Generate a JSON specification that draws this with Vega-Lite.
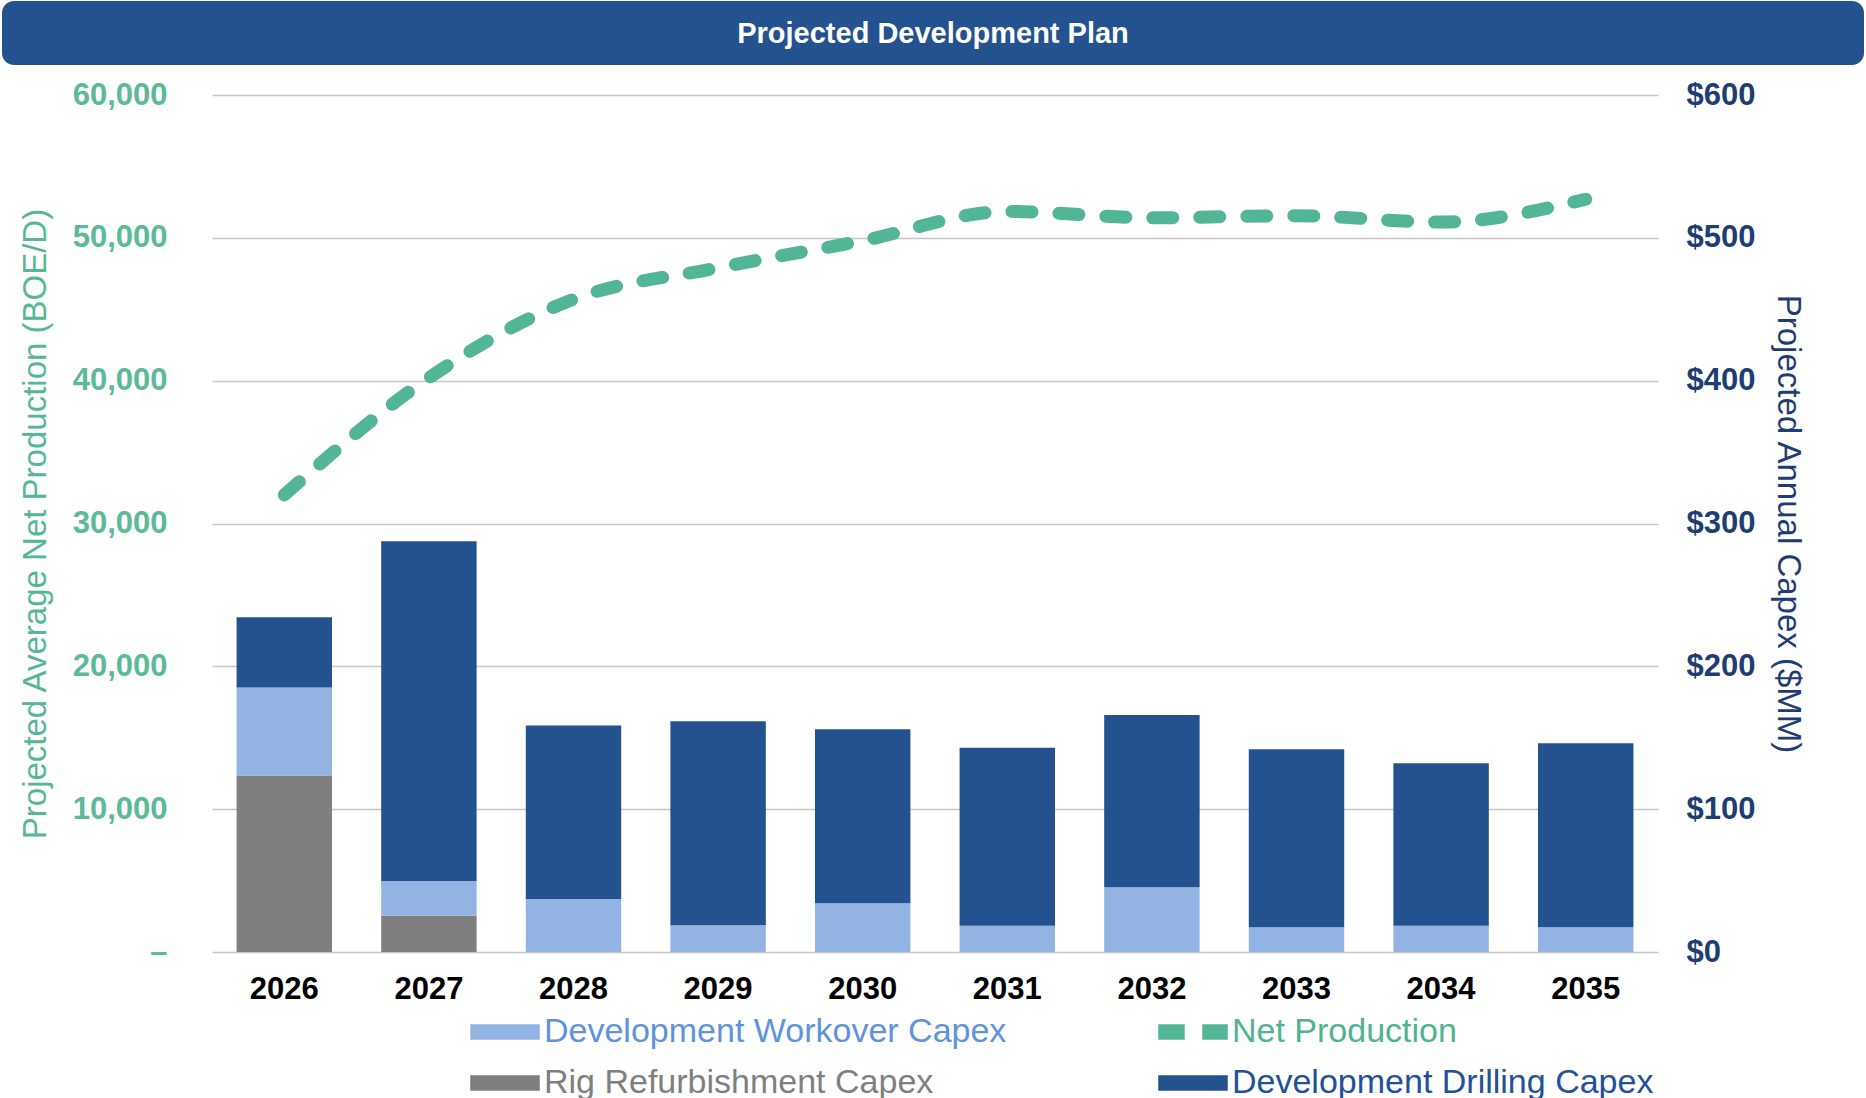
{
  "$schema": "https://vega.github.io/schema/vega-lite/v6.json",
  "padding": {"left": 2, "top": 1, "right": 0, "bottom": 0},
  "background": "white",
  "config": {"font": "Liberation Sans", "view": {"stroke": null}},
  "datasets": {
    "capex": [
      {"year": "2026", "type": "Rig Refurbishment Capex", "capex": 123.5},
      {"year": "2026", "type": "Development Workover Capex", "capex": 61.6},
      {"year": "2026", "type": "Development Drilling Capex", "capex": 49.2},
      {"year": "2027", "type": "Rig Refurbishment Capex", "capex": 25.4},
      {"year": "2027", "type": "Development Workover Capex", "capex": 24.3},
      {"year": "2027", "type": "Development Drilling Capex", "capex": 237.8},
      {"year": "2028", "type": "Development Workover Capex", "capex": 37.1},
      {"year": "2028", "type": "Development Drilling Capex", "capex": 121.4},
      {"year": "2029", "type": "Development Workover Capex", "capex": 18.7},
      {"year": "2029", "type": "Development Drilling Capex", "capex": 142.8},
      {"year": "2030", "type": "Development Workover Capex", "capex": 34.1},
      {"year": "2030", "type": "Development Drilling Capex", "capex": 121.8},
      {"year": "2031", "type": "Development Workover Capex", "capex": 18.4},
      {"year": "2031", "type": "Development Drilling Capex", "capex": 124.6},
      {"year": "2032", "type": "Development Workover Capex", "capex": 45.3},
      {"year": "2032", "type": "Development Drilling Capex", "capex": 120.6},
      {"year": "2033", "type": "Development Workover Capex", "capex": 17.3},
      {"year": "2033", "type": "Development Drilling Capex", "capex": 124.6},
      {"year": "2034", "type": "Development Workover Capex", "capex": 18.4},
      {"year": "2034", "type": "Development Drilling Capex", "capex": 113.7},
      {"year": "2035", "type": "Development Workover Capex", "capex": 17.3},
      {"year": "2035", "type": "Development Drilling Capex", "capex": 128.8}
    ],
    "production": [
      {"year": "2026", "production": 32000},
      {"year": "2027", "production": 40200},
      {"year": "2028", "production": 45700},
      {"year": "2029", "production": 47900},
      {"year": "2030", "production": 49800},
      {"year": "2031", "production": 51850},
      {"year": "2032", "production": 51400},
      {"year": "2033", "production": 51550},
      {"year": "2034", "production": 51100},
      {"year": "2035", "production": 52700}
    ],
    "empty": []
  },
  "spacing": 14,
  "resolve": {"legend": {"color": "independent"}},
  "vconcat": [
    {
      "width": 1862,
      "height": 64,
      "view": {"fill": "#24528F", "cornerRadius": 12, "stroke": null},
      "data": {"values": [{"title": "Projected Development Plan"}]},
      "mark": {"type": "text", "color": "white", "fontSize": 29, "fontWeight": "bold", "dy": 1},
      "encoding": {"text": {"field": "title", "type": "nominal"}}
    },
    {
      "spacing": 16,
      "resolve": {"legend": {"color": "independent"}},
      "hconcat": [
        {
          "width": 1,
          "height": 857,
          "data": {"name": "empty"},
          "mark": {"type": "point", "opacity": 0},
          "encoding": {}
        },
        {
          "width": 1446,
          "height": 857,
          "layer": [
            {
              "data": {"name": "capex"},
              "mark": {"type": "bar"},
              "encoding": {
                "x": {
                  "field": "year",
                  "type": "nominal",
                  "scale": {"paddingInner": 0.34, "paddingOuter": 0.17},
                  "axis": {"title": null, "labelAngle": 0, "labelFontSize": 31, "labelFontWeight": "bold", "labelColor": "#000000", "labelPadding": 22, "ticks": false, "domain": false, "grid": false}
                },
                "y": {
                  "field": "capex",
                  "type": "quantitative",
                  "stack": "zero",
                  "scale": {"domain": [0, 600]},
                  "axis": {"orient": "right", "title": "Projected Annual Capex ($MM)", "values": [0, 100, 200, 300, 400, 500, 600], "labelExpr": "'$' + datum.value", "labelFontSize": 31, "labelFontWeight": "bold", "labelColor": "#1F3D73", "labelPadding": 28, "ticks": false, "domain": false, "grid": false, "titleFontSize": 33, "titleFontWeight": "normal", "titleColor": "#1F3D73", "titlePadding": 16}
                },
                "color": {
                  "field": "type",
                  "type": "nominal",
                  "scale": {
                    "domain": ["Development Workover Capex", "Net Production", "Rig Refurbishment Capex", "Development Drilling Capex"],
                    "range": ["#93B4E3", "#52B696", "#7F7F7F", "#24528F"]
                  },
                  "legend": {
                    "title": null,
                    "orient": "none",
                    "direction": "horizontal",
                    "legendX": 252,
                    "legendY": 920,
                    "columns": 2,
                    "columnPadding": 145,
                    "rowPadding": 17,
                    "padding": 0,
                    "symbolType": "M-1,-0.7 L5.8,-0.7 L5.8,0.7 L-1,0.7 Z",
                    "symbolSize": 400,
                    "labelFontSize": 34,
                    "labelOffset": 46,
                    "labelLimit": 700,
                    "encode": {
                      "symbols": {"update": {
                        "shape": {"signal": "datum.label === 'Net Production' ? 'M-1,-0.7 L1.5,-0.7 L1.5,0.7 L-1,0.7 Z M3.4,-0.7 L5.8,-0.7 L5.8,0.7 L3.4,0.7 Z' : 'M-1,-0.7 L5.8,-0.7 L5.8,0.7 L-1,0.7 Z'"},
                        "fill": {"signal": "scale('color', datum.value)"},
                        "stroke": {"value": "transparent"},
                        "opacity": {"value": 1}
                      }},
                      "labels": {"update": {
                        "fill": {"signal": "datum.label === 'Net Production' ? '#4FB392' : datum.label === 'Development Workover Capex' ? '#5F93DB' : datum.label === 'Rig Refurbishment Capex' ? '#7F7F7F' : '#22519A'"}
                      }}
                    }
                  }
                },
                "order": {"field": "type", "sort": "descending"}
              }
            },
            {
              "data": {"name": "production"},
              "mark": {"type": "line", "strokeWidth": 13, "strokeDash": [20, 27], "strokeCap": "round", "interpolate": "monotone"},
              "encoding": {
                "x": {"field": "year", "type": "nominal"},
                "y": {
                  "field": "production",
                  "type": "quantitative",
                  "scale": {"domain": [0, 60000]},
                  "axis": {"orient": "left", "title": "Projected Average Net Production (BOE/D)", "values": [0, 10000, 20000, 30000, 40000, 50000, 60000], "labelExpr": "datum.value === 0 ? '–' : format(datum.value, ',')", "labelFontSize": 31, "labelFontWeight": "bold", "labelColor": "#5CB99A", "labelPadding": 45, "ticks": false, "domain": false, "grid": true, "gridColor": "#C6C6C6", "gridWidth": 1.5, "titleFontSize": 33, "titleFontWeight": "normal", "titleColor": "#55B795", "titlePadding": 20}
                },
                "color": {"datum": "Net Production"}
              }
            }
          ],
          "resolve": {"scale": {"y": "independent"}}
        }
      ]
    }
  ]
}
